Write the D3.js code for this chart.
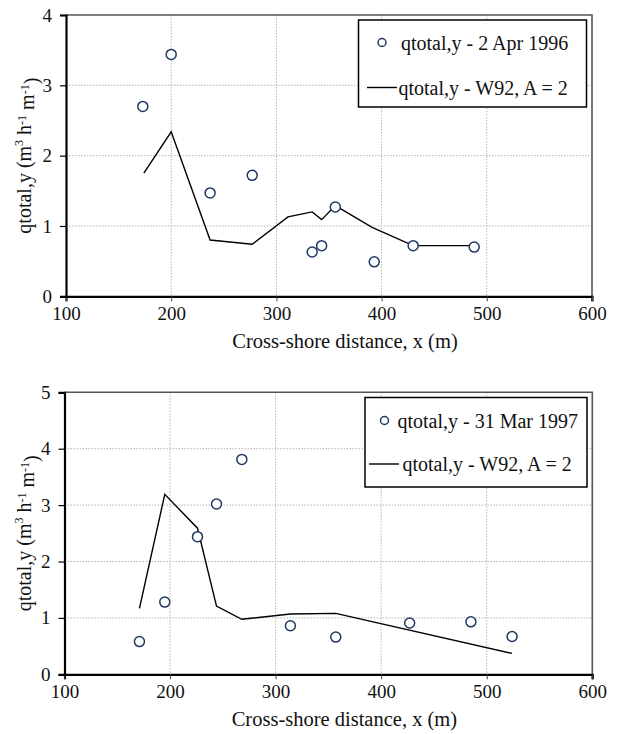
<!DOCTYPE html>
<html>
<head>
<meta charset="utf-8">
<script src="https://cdn.jsdelivr.net/npm/d3@7"></script>
<style>
  html, body { margin: 0; padding: 0; background: #fff; }
  svg { display: block; }
  svg text { font-family: "Liberation Serif", "Times New Roman", Times, "DejaVu Serif", serif !important; fill: #111; }
</style>
</head>
<body>
<svg id="chart" width="625" height="734"></svg>
<script>
// ---------- data ----------
const xTicks = [100, 200, 300, 400, 500, 600];
const yTicksTop = [0, 1, 2, 3, 4];
const yTicksBottom = [0, 1, 2, 3, 4, 5];

const obs1996X = [173, 200, 237, 277, 334, 343, 356, 393, 430, 488];
const obs1996Y = [2.70, 3.44, 1.47, 1.72, 0.63, 0.72, 1.27, 0.49, 0.72, 0.70];
const model1996X = [174, 200, 237, 277, 311, 334, 343, 356, 391, 430, 488];
const model1996Y = [1.75, 2.34, 0.80, 0.74, 1.13, 1.20, 1.09, 1.29, 0.98, 0.72, 0.72];

const obs1997X = [171, 195, 226, 244, 268, 314, 357, 427, 485, 524];
const obs1997Y = [0.58, 1.28, 2.44, 3.02, 3.81, 0.86, 0.66, 0.91, 0.93, 0.67];
const model1997X = [171, 195, 226, 244, 268, 314, 357, 524];
const model1997Y = [1.17, 3.19, 2.59, 1.21, 0.975, 1.07, 1.08, 0.37];

const legendObs1996 = "qtotal,y - 2 Apr 1996";
const legendObs1997 = "qtotal,y - 31 Mar 1997";
const legendModel = "qtotal,y - W92, A = 2";
const xLabel = "Cross-shore distance, x (m)";

// ---------- drawing ----------
const FONT = "'Liberation Serif', 'Times New Roman', Times, 'DejaVu Serif', serif";
const svg = d3.select("#chart").attr("font-family", FONT);
const markerColor = "#203864";

function txt(sel, size) {
  return sel.style("font-family", FONT).attr("font-size", size).attr("fill", "#111");
}

function panel(cfg) {
  const g = svg.append("g");
  const x = d3.scaleLinear().domain([100, 600]).range([cfg.left, cfg.right]);
  const y = d3.scaleLinear().domain([0, cfg.yMax]).range([cfg.bottom, cfg.top]);

  // grid
  g.append("g").selectAll("line")
    .data(xTicks.filter(d => d > 100 && d < 600)).join("line")
    .attr("x1", d => x(d)).attr("x2", d => x(d))
    .attr("y1", cfg.top).attr("y2", cfg.bottom)
    .attr("stroke", "#b5b5b5").attr("stroke-width", 1).attr("stroke-dasharray", "1.5,1.5");
  g.append("g").selectAll("line")
    .data(cfg.yTicks.filter(d => d > 0 && d < cfg.yMax)).join("line")
    .attr("x1", cfg.left).attr("x2", cfg.right)
    .attr("y1", d => y(d)).attr("y2", d => y(d))
    .attr("stroke", "#b5b5b5").attr("stroke-width", 1).attr("stroke-dasharray", "1.5,1.5");

  // top / right border
  g.append("path")
    .attr("d", `M${cfg.left},${cfg.top}H${cfg.right}V${cfg.bottom + 5}`)
    .attr("fill", "none").attr("stroke", "#555").attr("stroke-width", 1.6);

  // axes
  const xAxis = d3.axisBottom(x).tickValues(xTicks).tickSize(5).tickPadding(5).tickFormat(d3.format("d"));
  const gx = g.append("g").attr("transform", `translate(0,${cfg.bottom})`).call(xAxis);
  gx.attr("font-family", null);
  gx.select(".domain").attr("stroke", "#000").attr("stroke-width", 2.2);
  gx.selectAll(".tick line").attr("stroke", "#444").attr("stroke-width", 1);
  txt(gx.selectAll(".tick text"), 19);

  const yAxis = d3.axisLeft(y).tickValues(cfg.yTicks).tickSize(6).tickPadding(8).tickFormat(d3.format("d"));
  const gy = g.append("g").attr("transform", `translate(${cfg.left},0)`).call(yAxis);
  gy.attr("font-family", null);
  gy.select(".domain").attr("stroke", "#000").attr("stroke-width", 2.2);
  gy.selectAll(".tick line").attr("stroke", "#000").attr("stroke-width", 1.2);
  txt(gy.selectAll(".tick text"), 19);

  // axis label x
  txt(g.append("text"), 20.5)
    .attr("x", (cfg.left + cfg.right) / 2 + 16)
    .attr("y", cfg.bottom + 52)
    .attr("text-anchor", "middle")
    .text(xLabel);

  // axis label y
  const cy = (cfg.top + cfg.bottom) / 2;
  const yl = txt(g.append("text"), 20)
    .attr("transform", `translate(31,${cy}) rotate(-90)`)
    .attr("text-anchor", "middle");
  yl.append("tspan").text("qtotal,y (m");
  yl.append("tspan").attr("font-size", 12).attr("dy", "-0.7em").text("3");
  yl.append("tspan").attr("dy", "0.42em").text(" h");
  yl.append("tspan").attr("font-size", 12).attr("dy", "-0.42em").text("-1");
  yl.append("tspan").attr("dy", "0.42em").text(" m");
  yl.append("tspan").attr("font-size", 12).attr("dy", "-0.42em").text("-1");
  yl.append("tspan").attr("dy", "0.42em").text(")");

  // model line
  const lineData = cfg.modelX.map((d, i) => [d, cfg.modelY[i]]);
  g.append("path")
    .datum(lineData)
    .attr("d", d3.line().x(d => x(d[0])).y(d => y(d[1])))
    .attr("fill", "none").attr("stroke", "#000").attr("stroke-width", 1.4);

  // observations
  const pts = cfg.obsX.map((d, i) => [d, cfg.obsY[i]]);
  g.append("g").selectAll("circle").data(pts).join("circle")
    .attr("cx", d => x(d[0])).attr("cy", d => y(d[1])).attr("r", 5)
    .attr("fill", "#fff").attr("stroke", markerColor).attr("stroke-width", 1.5);

  // legend
  const L = cfg.legend;
  g.append("rect").attr("x", L.x0).attr("y", L.y0)
    .attr("width", L.x1 - L.x0).attr("height", L.y1 - L.y0)
    .attr("fill", "#fff").attr("stroke", "#000").attr("stroke-width", 1.5);
  g.append("circle").attr("cx", L.mx).attr("cy", L.my).attr("r", 4)
    .attr("fill", "#fff").attr("stroke", markerColor).attr("stroke-width", 1.5);
  txt(g.append("text"), 20).attr("x", L.t1x).attr("y", L.my + 7).text(cfg.obsLabel);
  g.append("line").attr("x1", L.lx0).attr("x2", L.lx1).attr("y1", L.ly).attr("y2", L.ly)
    .attr("stroke", "#000").attr("stroke-width", 1.4);
  txt(g.append("text"), 20).attr("x", L.t2x).attr("y", L.ly + 7).text(legendModel);
}

panel({
  left: 66, right: 592, top: 15, bottom: 296.3, yMax: 4, yTicks: yTicksTop,
  obsX: obs1996X, obsY: obs1996Y, modelX: model1996X, modelY: model1996Y,
  obsLabel: legendObs1996,
  legend: { x0: 358.5, x1: 586.5, y0: 20, y1: 107, mx: 382, my: 42.5, t1x: 401, lx0: 367, lx1: 397, ly: 87.5, t2x: 398.5 }
});

panel({
  left: 64.5, right: 592.3, top: 392.3, bottom: 674.3, yMax: 5, yTicks: yTicksBottom,
  obsX: obs1997X, obsY: obs1997Y, modelX: model1997X, modelY: model1997Y,
  obsLabel: legendObs1997,
  legend: { x0: 365, x1: 587, y0: 397.5, y1: 487, mx: 384.5, my: 420.5, t1x: 397.5, lx0: 369, lx1: 399, ly: 464, t2x: 402.5 }
});
</script>
</body>
</html>
